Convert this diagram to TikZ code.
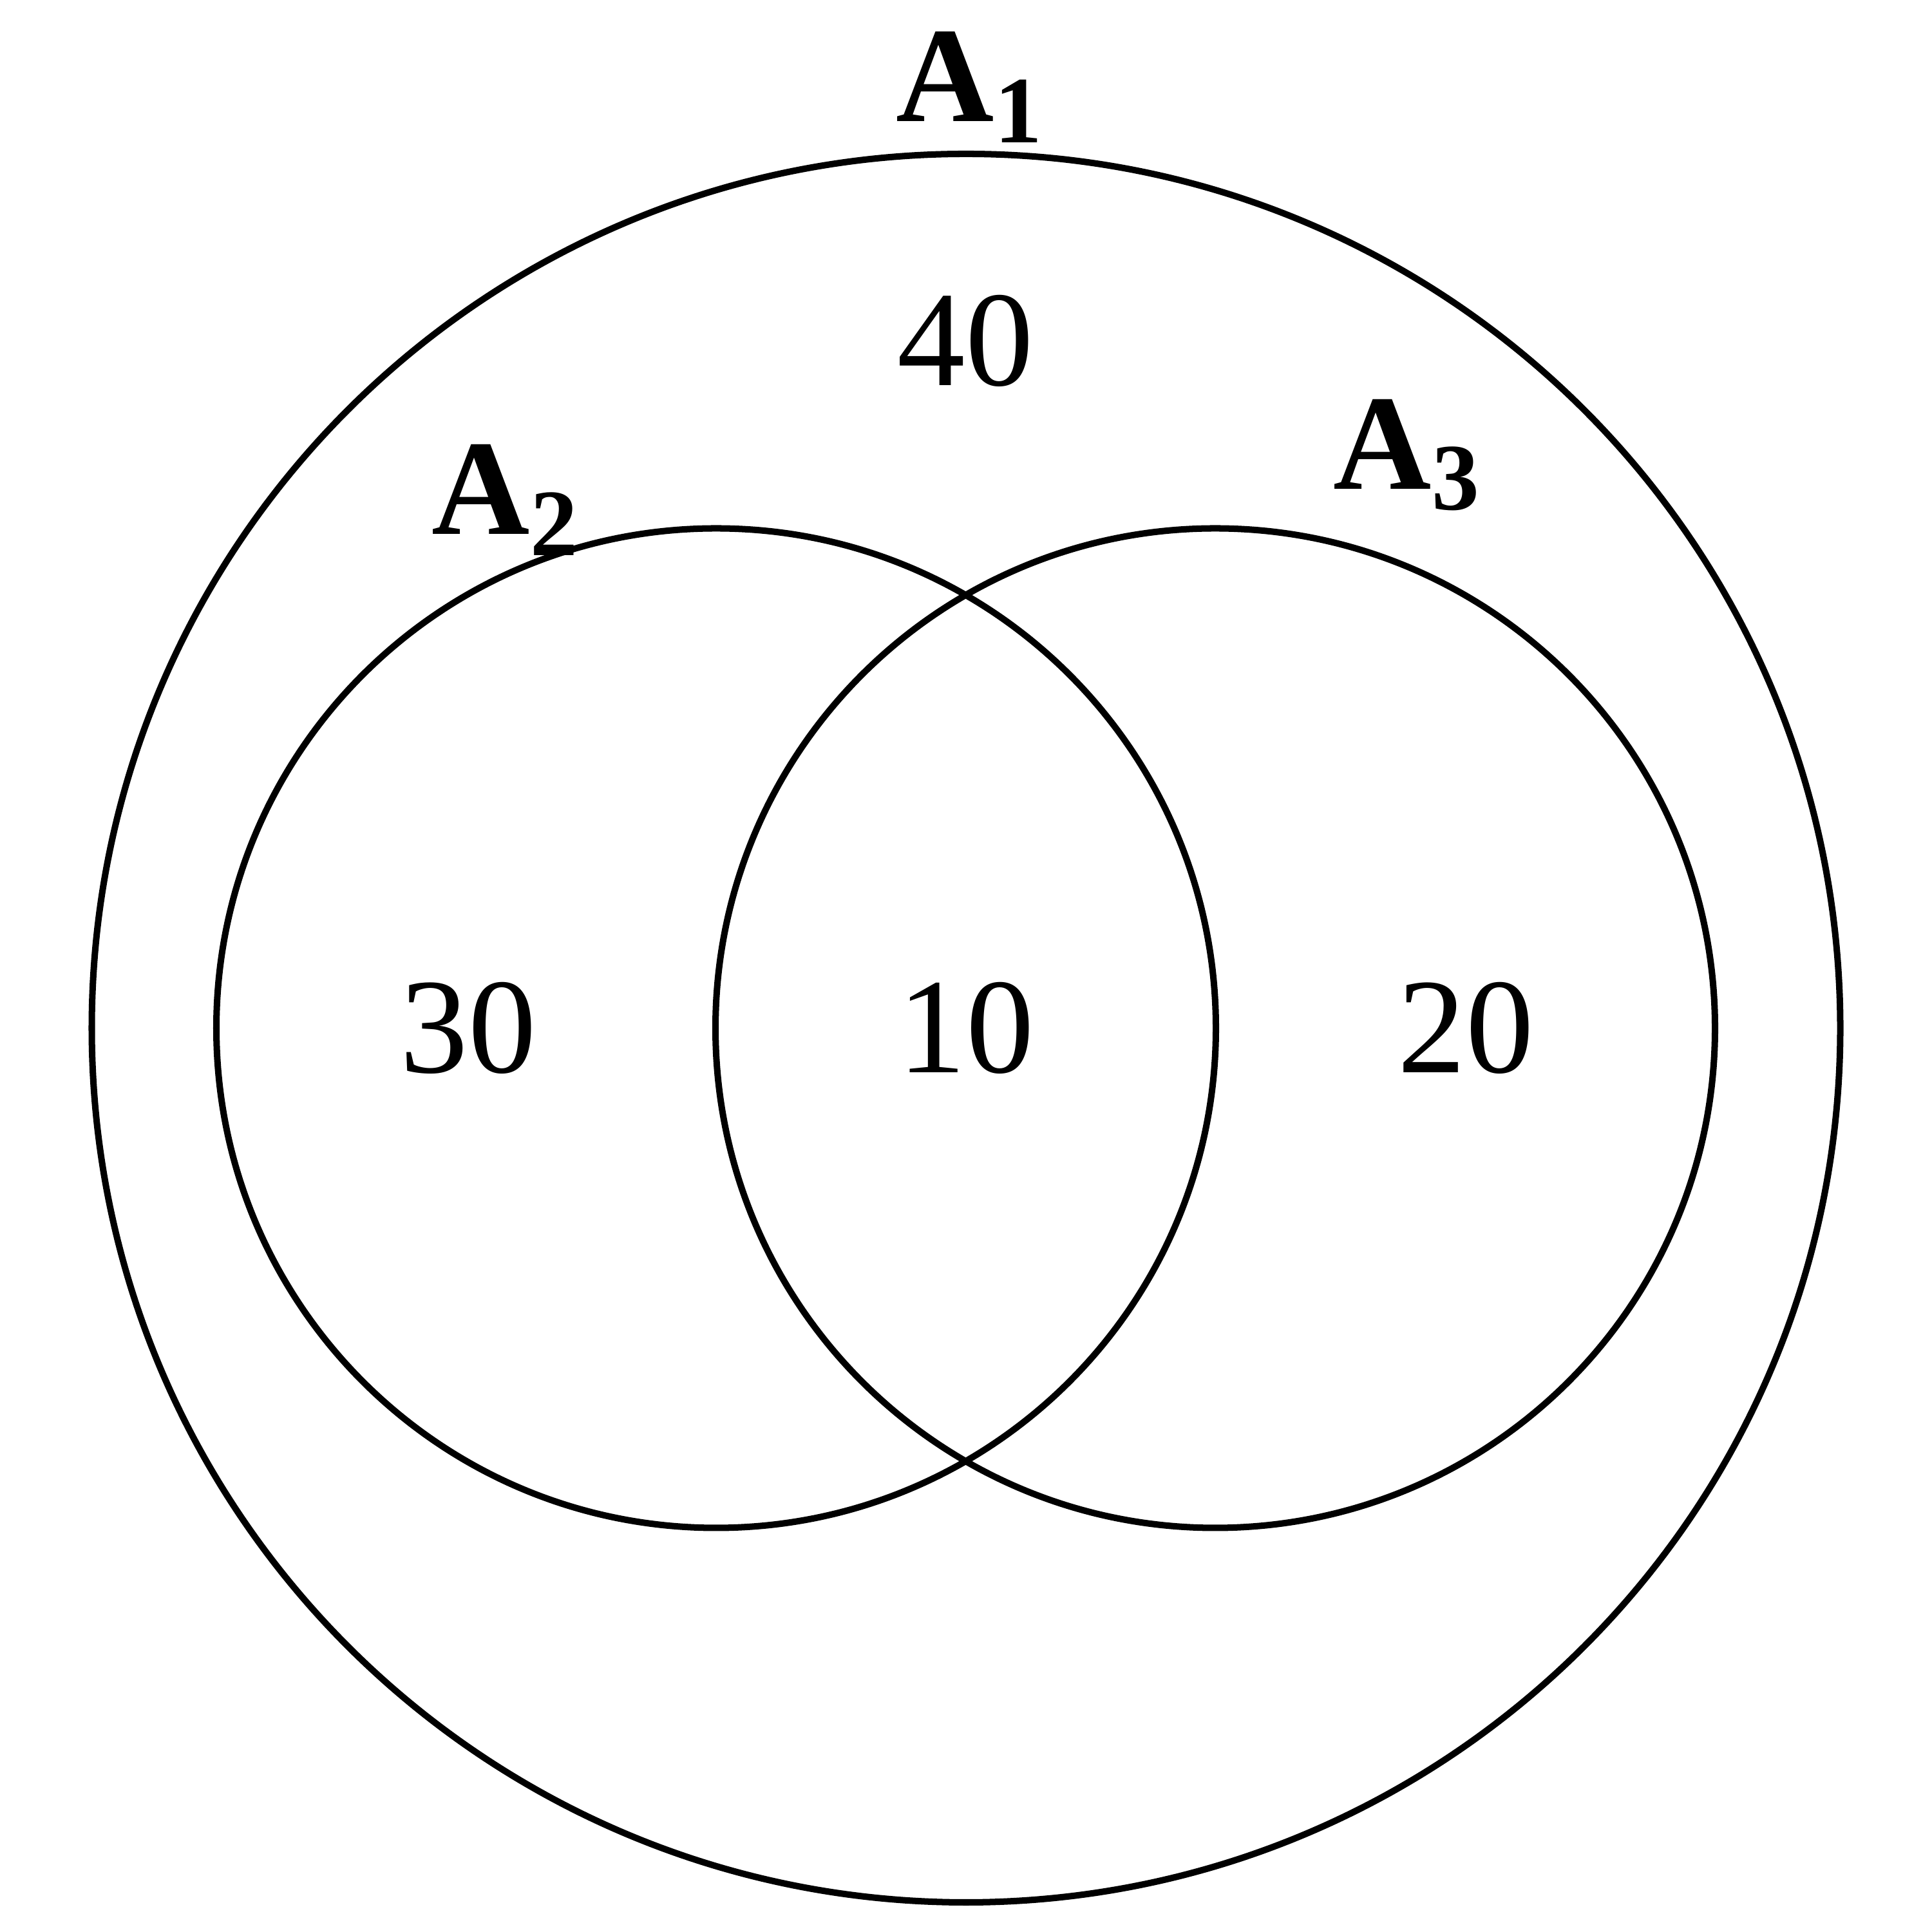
\documentclass[tikz,border=0pt]{standalone}
\usepackage{fontspec}
\setmainfont{Liberation Serif}
\begin{document}
\begin{tikzpicture}[
  ring/.style={draw=black, line width=2.85pt},
  setlabel/.style={anchor=base west, inner sep=0pt, font=\fontsize{60}{60}\selectfont\bfseries},
  count/.style={anchor=base, inner sep=0pt, font=\fontsize{60}{60}\selectfont}
]
\useasboundingbox (0,0) rectangle (30,30);
\node[ring, circle, minimum size=27.15cm, inner sep=0pt] (c1) at (15,14.035) {};
\node[ring, circle, minimum size=15.52cm, inner sep=0pt] (c2) at (11.12,14.035) {};
\node[ring, circle, minimum size=15.52cm, inner sep=0pt] (c3) at (18.87,14.035) {};
\node[setlabel] (l1) at (13.91,28.11) {A\raisebox{-9.2pt}{\fontsize{42}{42}\selectfont 1}};
\node[setlabel] (l2) at (6.70,21.70) {A\raisebox{-9.2pt}{\fontsize{42}{42}\selectfont 2}};
\node[setlabel] (l3) at (20.70,22.405) {A\raisebox{-9.2pt}{\fontsize{42}{42}\selectfont 3}};
\node[count] (n40) at (14.99,24.01) {40};
\node[count] (n30) at (7.27,13.34) {30};
\node[count] (n10) at (15.0,13.34) {10};
\node[count] (n20) at (22.76,13.34) {20};
\end{tikzpicture}
\end{document}
